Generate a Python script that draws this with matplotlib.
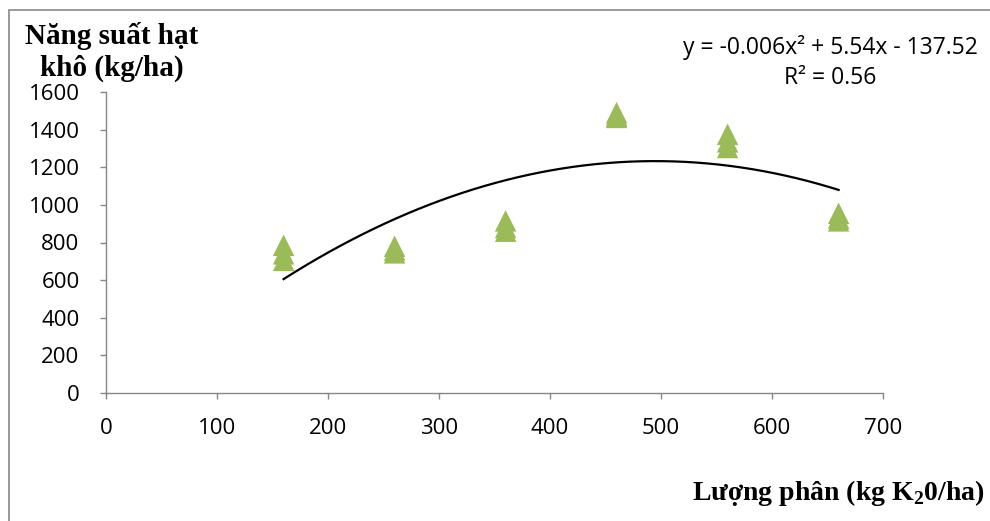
import numpy as np
import matplotlib
matplotlib.use("Agg")
import matplotlib.pyplot as plt
from matplotlib.patches import Rectangle

# Lượng phân K2O (kg/ha) và năng suất hạt khô của các lần nhắc
luong_phan = [160, 160, 160, 260, 260, 260, 360, 360, 360,
              460, 460, 460, 560, 560, 560, 660, 660, 660]
nang_suat = [785, 740, 705, 780, 760, 745, 915, 880, 860,
             1490, 1475, 1465, 1375, 1335, 1305, 955, 930, 915]

# Hệ số đường xu hướng bậc 2
he_so = [-0.0056, 5.54, -137.52]
phuong_trinh = "y = -0.006x² + 5.54x - 137.52"
r2_text = "R² = 0.56"

x_ticks = [0, 100, 200, 300, 400, 500, 600, 700]
y_ticks = [0, 200, 400, 600, 800, 1000, 1200, 1400, 1600]

W, H = 990, 521
fig = plt.figure(figsize=(W / 100, H / 100), dpi=100)

# khung ngoài của biểu đồ
fig.patches.append(Rectangle((9 / W, -0.05), 1.1, 1 - 10 / H + 0.05,
                             transform=fig.transFigure, fill=False,
                             edgecolor="#898989", linewidth=1.2))

ax = fig.add_axes([106 / W, 1 - 393 / H, (883 - 106) / W, (393 - 92) / H])

ax.scatter(luong_phan, nang_suat, marker="^", s=240, color="#9BBB59",
           edgecolors="none", zorder=3)

xs = np.linspace(min(luong_phan), max(luong_phan), 200)
ax.plot(xs, np.polyval(he_so, xs), color="black", linewidth=1.6, zorder=2)

ax.set_xlim(0, 700)
ax.set_ylim(0, 1600)
ax.set_xticks(x_ticks)
ax.set_yticks(y_ticks)

for s in ["top", "right"]:
    ax.spines[s].set_visible(False)
for s in ["left", "bottom"]:
    ax.spines[s].set_color("#868686")
    ax.spines[s].set_linewidth(1.0)

ax.tick_params(axis="both", direction="out", length=4, width=1,
               color="#868686", labelsize=16, labelcolor="black")
ax.tick_params(axis="x", pad=14)
ax.tick_params(axis="y", pad=15)
for lab in ax.get_xticklabels() + ax.get_yticklabels():
    lab.set_family("Open Sans")

fig.text(112 / W, 1 - 52 / H, "Năng suất hạt\nkhô (kg/ha)", ha="center",
         va="center", family="Liberation Serif", fontweight="bold",
         fontsize=21, linespacing=1.25)

fig.text(985 / W, 1 - 493 / H, "Lượng phân (kg K$_\\mathregular{2}$0/ha)",
         ha="right", va="center", family="Liberation Serif",
         fontweight="bold", fontsize=20)

fig.text(830 / W, 1 - 47 / H, phuong_trinh, ha="center", va="center",
         family="Open Sans", fontsize=16.5)
fig.text(830 / W, 1 - 78 / H, r2_text, ha="center", va="center",
         family="Open Sans", fontsize=16.5)

fig.savefig("out.png", dpi=100)
